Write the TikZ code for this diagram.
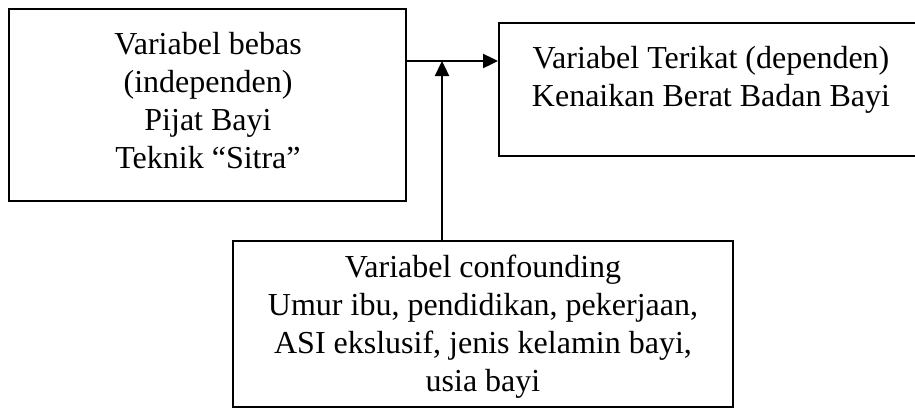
\documentclass[tikz,border=0pt]{standalone}
\usepackage{fontspec}
\setmainfont{Liberation Serif}
\usetikzlibrary{arrows.meta}
\begin{document}
\begin{tikzpicture}[x=1pt,y=-1pt,
  boxstyle/.style={draw=black,line width=2pt,inner sep=0pt},
  txt/.style={align=center,inner sep=0pt,font=\fontsize{32}{38}\selectfont},
  arr/.style={line width=2.4pt,-{Triangle[length=15pt,width=14pt]}}]
\useasboundingbox (0,0) rectangle (915,408);
\node[boxstyle,minimum width=397pt,minimum height=192pt] (left) at (207.5,105) {};
\node[boxstyle,minimum width=420pt,minimum height=133pt] (right) at (709,89.5) {};
\node[boxstyle,minimum width=500pt,minimum height=166pt] (bottom) at (483,324) {};
\node[txt] (lefttxt) at (208,101) {Variabel bebas\\(independen)\\Pijat Bayi\\Teknik “Sitra”};
\node[txt] (righttxt) at (711,80) {Variabel Terikat (dependen)\\Kenaikan Berat Badan Bayi};
\node[txt] (bottomtxt) at (483,327) {Variabel confounding\\Umur ibu, pendidikan, pekerjaan,\\ASI ekslusif, jenis kelamin bayi,\\usia bayi};
\coordinate (j) at (442,61);
\draw[arr] (left.east |- j) -- (right.west |- j);
\draw[arr] (bottom.north -| j) -- (j);
\end{tikzpicture}
\end{document}
